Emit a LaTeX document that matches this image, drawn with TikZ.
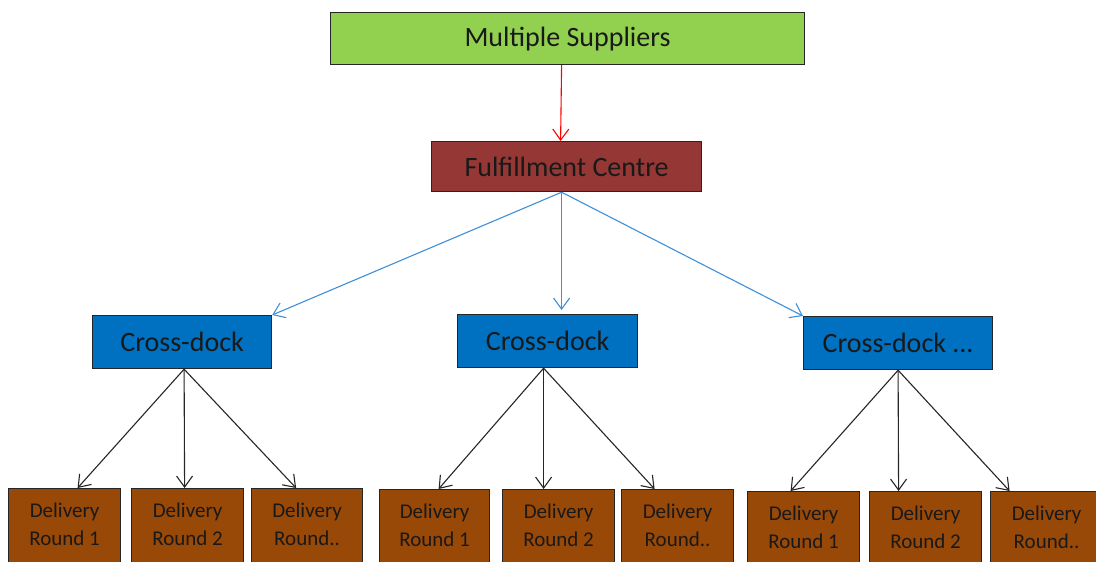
\documentclass[tikz,border=0pt]{standalone}
\usepackage{fontspec}
\setmainfont{Carlito}
\usetikzlibrary{arrows.meta}

\definecolor{suppgreen}{HTML}{92D050}
\definecolor{fulred}{HTML}{953735}
\definecolor{dockblue}{HTML}{0070C0}
\definecolor{roundbrown}{HTML}{984807}
\definecolor{linkblue}{HTML}{3D8FD8}
\definecolor{linkred}{HTML}{FF0000}

\tikzset{
	box node/.style = {
		rectangle,
		draw = black!85,
		line width = 1.2pt,
		anchor = north west,
		text = black!90,
		inner sep = 0pt
	},
	supp node/.style = {
		box node,
		fill = suppgreen,
		minimum width = 474pt,
		minimum height = 52pt,
		font = \fontsize{28}{34}\selectfont
	},
	ful node/.style = {
		box node,
		fill = fulred,
		minimum width = 270pt,
		minimum height = 50pt,
		font = \fontsize{28}{34}\selectfont
	},
	dock node/.style = {
		box node,
		fill = dockblue,
		minimum width = 180pt,
		minimum height = 53pt,
		font = \fontsize{28}{34}\selectfont
	},
	round node/.style = {
		box node,
		fill = roundbrown,
		minimum width = 112pt,
		minimum height = 80pt,
		text depth = 9pt,
		align = center,
		font = \fontsize{21}{28}\selectfont
	},
	link/.style = {
		-{Straight Barb[length=11pt,width=16pt]},
		line width = 1.1pt
	}
}

\begin{document}
\begin{tikzpicture}[x=1pt, y=-1pt]
	\useasboundingbox (0,0) rectangle (1096,562);
	% top of the chain
	\node at (330,12)  [supp node] (supp) {Multiple Suppliers};
	\node at (431,141) [ful node]  (ful)  {Fulfillment Centre};
	% cross-docks
	\node at (92,315)  [dock node, minimum width=179pt] (dock1) {Cross-dock};
	\node at (457,314) [dock node]                      (dock2) {Cross-dock};
	\node at (803,316) [dock node, minimum width=189pt] (dock3) {Cross-dock ...};
	% delivery rounds
	\node at (8,488)   [round node] (r11) {Delivery\\Round 1};
	\node at (131,488) [round node] (r12) {Delivery\\Round 2};
	\node at (251,488) [round node, minimum width=111pt] (r13) {Delivery\\Round..};
	\node at (379,489) [round node, minimum width=110pt] (r21) {Delivery\\Round 1};
	\node at (502,489) [round node] (r22) {Delivery\\Round 2};
	\node at (621,489) [round node] (r23) {Delivery\\Round..};
	\node at (747,491) [round node] (r31) {Delivery\\Round 1};
	\node at (869,491) [round node] (r32) {Delivery\\Round 2};
	\node at (990,491) [round node] (r33) {Delivery\\Round..};

	\draw [link, linkred] ([xshift=-6pt]supp.south) -- ([xshift=-6pt]ful.north);

	\draw [link, linkblue] ([xshift=-5pt]ful.south) -- (dock1.north east);
	\draw [link, linkblue] ([xshift=-5pt]ful.south) -- ([xshift=14pt, yshift=4pt]dock2.north);
	\draw [link, linkblue] ([xshift=-5pt]ful.south) -- (dock3.north west);

	\draw [link, black!85] ([xshift=2pt]dock1.south) -- ([xshift=13pt]r11.north);
	\draw [link, black!85] ([xshift=2pt]dock1.south) -- ([xshift=-3pt]r12.north);
	\draw [link, black!85] ([xshift=2pt]dock1.south) -- ([xshift=-11pt]r13.north);

	\draw [link, black!85] ([xshift=-4pt]dock2.south) -- ([xshift=4pt]r21.north);
	\draw [link, black!85] ([xshift=-4pt]dock2.south) -- ([xshift=-15pt]r22.north);
	\draw [link, black!85] ([xshift=-4pt]dock2.south) -- ([xshift=-23pt]r23.north);

	\draw [link, black!85] (dock3.south) -- ([xshift=-13pt]r31.north);
	\draw [link, black!85] (dock3.south) -- ([xshift=-27pt]r32.north);
	\draw [link, black!85] (dock3.south) -- ([xshift=-37pt]r33.north);
\end{tikzpicture}
\end{document}
